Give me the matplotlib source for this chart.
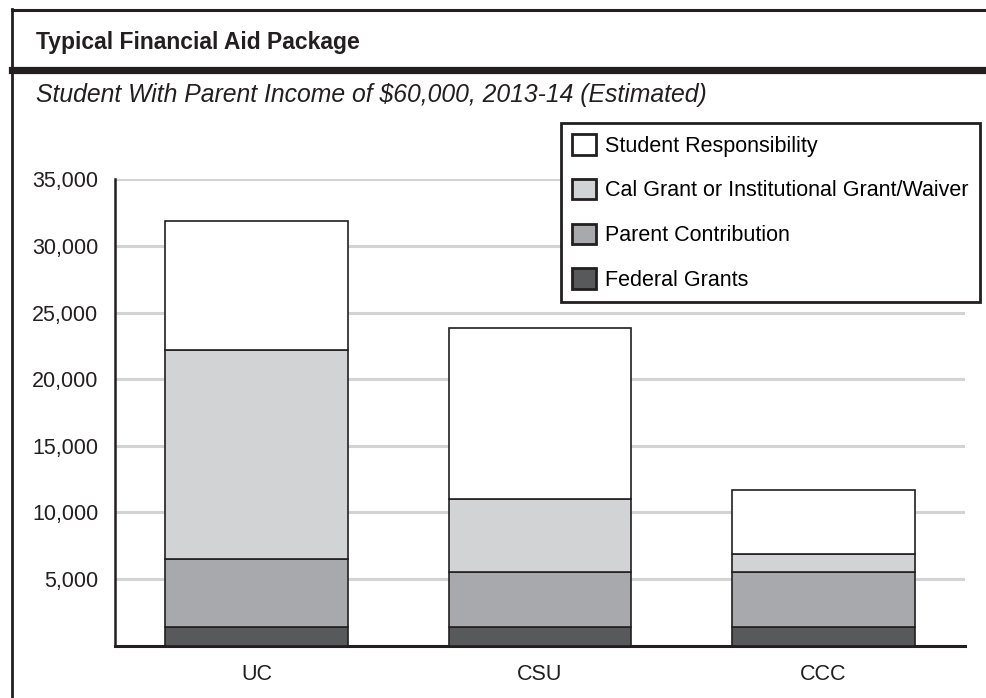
import numpy as np
import matplotlib
matplotlib.use('Agg')
import matplotlib.pyplot as plt
from matplotlib.lines import Line2D
from matplotlib.ticker import FuncFormatter

plt.rcParams['font.family'] = ['Liberation Sans', 'DejaVu Sans']

# data (dollars)
schools = ['UC', 'CSU', 'CCC']
federal_grants = [1400, 1400, 1400]
parent_contribution = [5100, 4100, 4100]
cal_grant = [15700, 5500, 1400]
student_responsibility = [9700, 12850, 4800]

series = [
    ('Federal Grants', federal_grants, '#58595b'),
    ('Parent Contribution', parent_contribution, '#a7a9ac'),
    ('Cal Grant or Institutional Grant/Waiver', cal_grant, '#d1d3d4'),
    ('Student Responsibility', student_responsibility, '#ffffff'),
]

W, H = 987, 698
fig = plt.figure(figsize=(W / 100, H / 100), dpi=100)

# frame around the chart
fig.add_artist(Line2D([11.5 / W, 1], [1 - 9.5 / H, 1 - 9.5 / H], color='#231f20', lw=2.2))
fig.add_artist(Line2D([12 / W, 12 / W], [0, 1 - 8.5 / H], color='#231f20', lw=2.0))
fig.add_artist(Line2D([12 / W, 1], [1 - 69.5 / H, 1 - 69.5 / H], color='#231f20', lw=5.2))

fig.text(36 / W, 1 - 43 / H, 'Typical Financial Aid Package',
         fontweight='bold', fontsize=16.5, va='center', ha='left', color='#231f20')
fig.text(36 / W, 1 - 95 / H, 'Student With Parent Income of $60,000, 2013-14 (Estimated)',
         fontstyle='italic', fontsize=17.8, va='center', ha='left', color='#231f20')

ax = fig.add_axes([115 / W, (H - 645.7) / H, 850 / W, (645.7 - 179.3) / H])

x = np.arange(len(schools))
bottom = np.zeros(len(schools))
handles = []
for label, vals, color in series:
    b = ax.bar(x, vals, 0.645, bottom=bottom, color=color, edgecolor='#231f20',
               linewidth=1.2, label=label, zorder=3)
    bottom += np.array(vals)
    handles.append(b)

ax.set_xlim(-0.5, 2.5)
ax.set_ylim(0, 35000)
ax.set_yticks(np.arange(5000, 35001, 5000))
ax.yaxis.set_major_formatter(FuncFormatter(lambda v, p: f'{int(v):,}'))
ax.set_xticks(x)
ax.set_xticklabels(schools)
ax.tick_params(axis='both', length=0, labelsize=15.5, colors='#231f20')
ax.tick_params(axis='y', pad=12)
ax.tick_params(axis='x', pad=13)
ax.yaxis.grid(True, color='#d1d3d4', lw=2.2, zorder=0)
ax.set_axisbelow(True)
for s in ['top', 'right']:
    ax.spines[s].set_visible(False)
ax.spines['left'].set_linewidth(1.8)
ax.spines['bottom'].set_linewidth(2.2)
ax.spines['left'].set_color('#231f20')
ax.spines['bottom'].set_color('#231f20')

leg = fig.legend(handles[::-1], [s[0] for s in series][::-1],
                 loc='upper left', bbox_to_anchor=(560.7 / W, 1 - 122.7 / H),
                 borderaxespad=0, fontsize=15.5, handlelength=1.1, handleheight=1.1,
                 labelspacing=1.03, handletextpad=0.45, borderpad=0.52,
                 fancybox=False, framealpha=1, edgecolor='#231f20')
leg.get_frame().set_linewidth(2.0)
for p in leg.get_patches():
    p.set_linewidth(2.0)

fig.savefig('out.png', dpi=100)
